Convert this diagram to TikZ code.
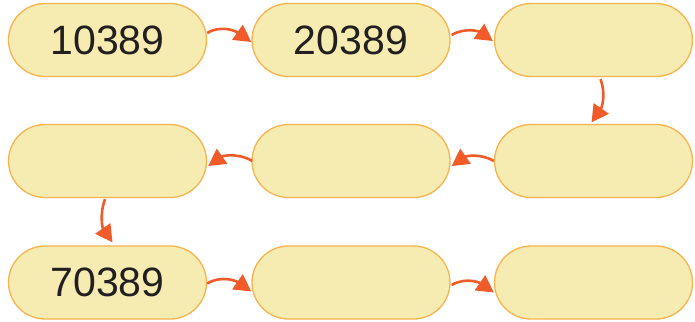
\documentclass[tikz,border=0pt]{standalone}
\usepackage{fontspec}
\setmainfont{Liberation Sans}
\usetikzlibrary{arrows.meta,calc}
\definecolor{boxfill}{HTML}{F6ECB2}
\definecolor{boxline}{HTML}{F8B24E}
\definecolor{arrcol}{HTML}{F15A29}
\definecolor{txtcol}{HTML}{231F20}
\tikzset{
  pill/.style={draw=boxline, fill=boxfill, line width=1.3pt, rounded corners=36.5pt,
    minimum width=198pt, minimum height=73pt, inner sep=0pt,
    text=txtcol, font=\fontsize{41}{41}\selectfont},
  arr/.style={draw=arrcol, line width=2.6pt, -{Triangle[length=17pt,width=18pt]}}
}
\begin{document}
\begin{tikzpicture}[x=1pt,y=1pt]
\useasboundingbox (0,0) rectangle (695,-321);
\node[pill] (a) at (107.5,-40) {10389};
\node[pill] (b) at (351,-40) {20389};
\node[pill] (c) at (593.5,-40) {};
\node[pill] (d) at (107.5,-161) {};
\node[pill] (e) at (351,-161) {};
\node[pill] (f) at (593.5,-161) {};
\node[pill] (g) at (107.5,-282.5) {70389};
\node[pill] (h) at (351,-282.5) {};
\node[pill] (i) at (593.5,-282.5) {};
\draw[arr] ($(a.east)+(0,7)$) to[out=30,in=145] ($(b.west)+(0,-2)$);
\draw[arr] ($(b.east)+(1,5)$) to[out=30,in=145] ($(c.west)+(-1,-1)$);
\draw[arr] ($(c.south)+(7,-2)$) to[out=-70,in=55] ($(f.north)+(-2,1.5)$);
\draw[arr] ($(f.west)+(0,0)$) to[out=150,in=35] ($(e.east)+(1,-5)$);
\draw[arr] ($(e.west)+(1,0)$) to[out=150,in=35] ($(d.east)+(1,-5)$);
\draw[arr] ($(d.south)+(-2.5,-1)$) to[out=-110,in=125] ($(g.north)+(5,3)$);
\draw[arr] ($(g.east)+(0,-1)$) to[out=30,in=145] ($(h.west)+(0,-9)$);
\draw[arr] ($(h.east)+(1,-2.5)$) to[out=30,in=145] ($(i.west)+(0,-10)$);
\end{tikzpicture}
\end{document}
